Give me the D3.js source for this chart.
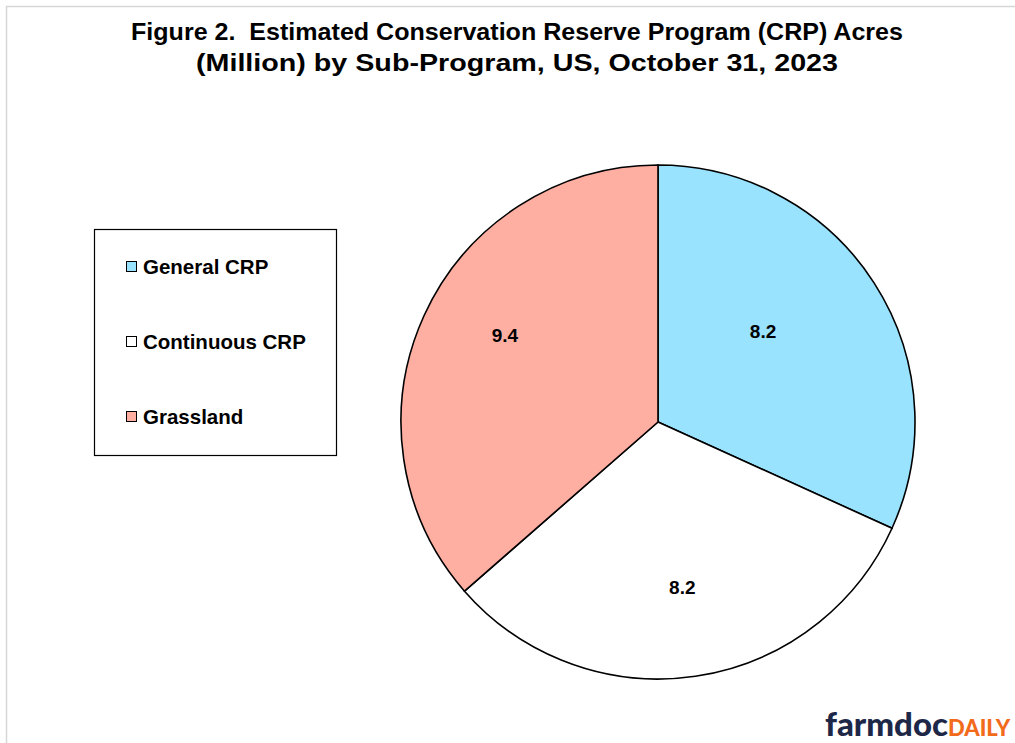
<!DOCTYPE html>
<html><head><meta charset="utf-8">
<script src="https://cdn.jsdelivr.net/npm/d3@7"></script>
<style>html,body{margin:0;padding:0;background:#fff;}svg{display:block;}</style>
</head><body>
<script>
const categories = ["General CRP", "Continuous CRP", "Grassland"];
const values = [8.2, 8.2, 9.4];
const colors = ["#99E3FF", "#FFFFFF", "#FFAEA2"];
const titleLines = ["Figure 2.  Estimated Conservation Reserve Program (CRP) Acres",
                    "(Million) by Sub-Program, US, October 31, 2023"];
// label placement tweaks (fraction of radius, angle offset in radians)
const labelRadius = [0.54, 0.65, 0.685];
const labelAngleShift = [-0.14, 0.0, 0.09];

const W = 1015, H = 743;
const svg = d3.select("body").append("svg").attr("width", W).attr("height", H);
svg.append("rect").attr("width", W).attr("height", H).attr("fill", "#fff");
svg.append("rect").attr("x", 6.5).attr("y", 6.5).attr("width", W).attr("height", H)
  .attr("fill", "none").attr("stroke", "#d6d6d6").attr("stroke-width", 1.5);

const font = "'Liberation Sans', Arial, sans-serif";
const title = svg.append("g");
const titleWidths = [772, 642];
titleLines.forEach((t, i) => {
  title.append("text").attr("x", 517).attr("y", 40 + i * 31)
    .attr("text-anchor", "middle").attr("font-family", "'Liberation Sans Narrow', 'Arial Narrow', 'Liberation Sans', sans-serif")
    .attr("font-weight", "bold").style("white-space", "pre")
    .attr("font-size", 24.5).attr("textLength", titleWidths[i]).attr("lengthAdjust", "spacingAndGlyphs")
    .attr("fill", "#000").text(t);
});

const cx = 658, cy = 422, r = 257;
const pie = d3.pie().sort(null).value(d => d)(values);
const arc = d3.arc().innerRadius(0).outerRadius(r);
const g = svg.append("g").attr("transform", `translate(${cx},${cy})`);
g.selectAll("path").data(pie).join("path")
  .attr("d", arc).attr("fill", (d, i) => colors[i])
  .attr("stroke", "#000").attr("stroke-width", 1.6).attr("stroke-linejoin", "miter");
g.selectAll("text").data(pie).join("text")
  .attr("x", (d, i) => { const a = (d.startAngle + d.endAngle) / 2 + labelAngleShift[i]; return Math.sin(a) * r * labelRadius[i]; })
  .attr("y", (d, i) => { const a = (d.startAngle + d.endAngle) / 2 + labelAngleShift[i]; return -Math.cos(a) * r * labelRadius[i]; })
  .attr("dy", "0.36em").attr("text-anchor", "middle")
  .attr("font-family", font).attr("font-weight", "bold").attr("font-size", 19)
  .text(d => d.value.toFixed(1));

// legend
const lg = svg.append("g");
lg.append("rect").attr("x", 94.5).attr("y", 229.5).attr("width", 242).attr("height", 226)
  .attr("fill", "#fff").attr("stroke", "#000").attr("stroke-width", 1.2);
const ly = d3.scalePoint().domain(categories).range([267, 417]);
categories.forEach((c, i) => {
  lg.append("rect").attr("x", 126.5).attr("y", ly(c) - 5.5).attr("width", 10).attr("height", 10)
    .attr("fill", colors[i]).attr("stroke", "#000").attr("stroke-width", 1);
  lg.append("text").attr("x", 143).attr("y", ly(c)).attr("dy", "0.36em")
    .attr("font-family", font).attr("font-weight", "bold").attr("font-size", 20.5).text(c);
});

// logo
const logo = svg.append("text").attr("x", 825).attr("y", 736)
  .attr("font-family", "Lato, sans-serif").attr("font-weight", 900);
logo.append("tspan").attr("font-size", 33).attr("fill", "#1d2849").text("farmdoc");
logo.append("tspan").attr("font-size", 22).attr("fill", "#f26a1b").text("DAILY");
</script>
</body></html>
